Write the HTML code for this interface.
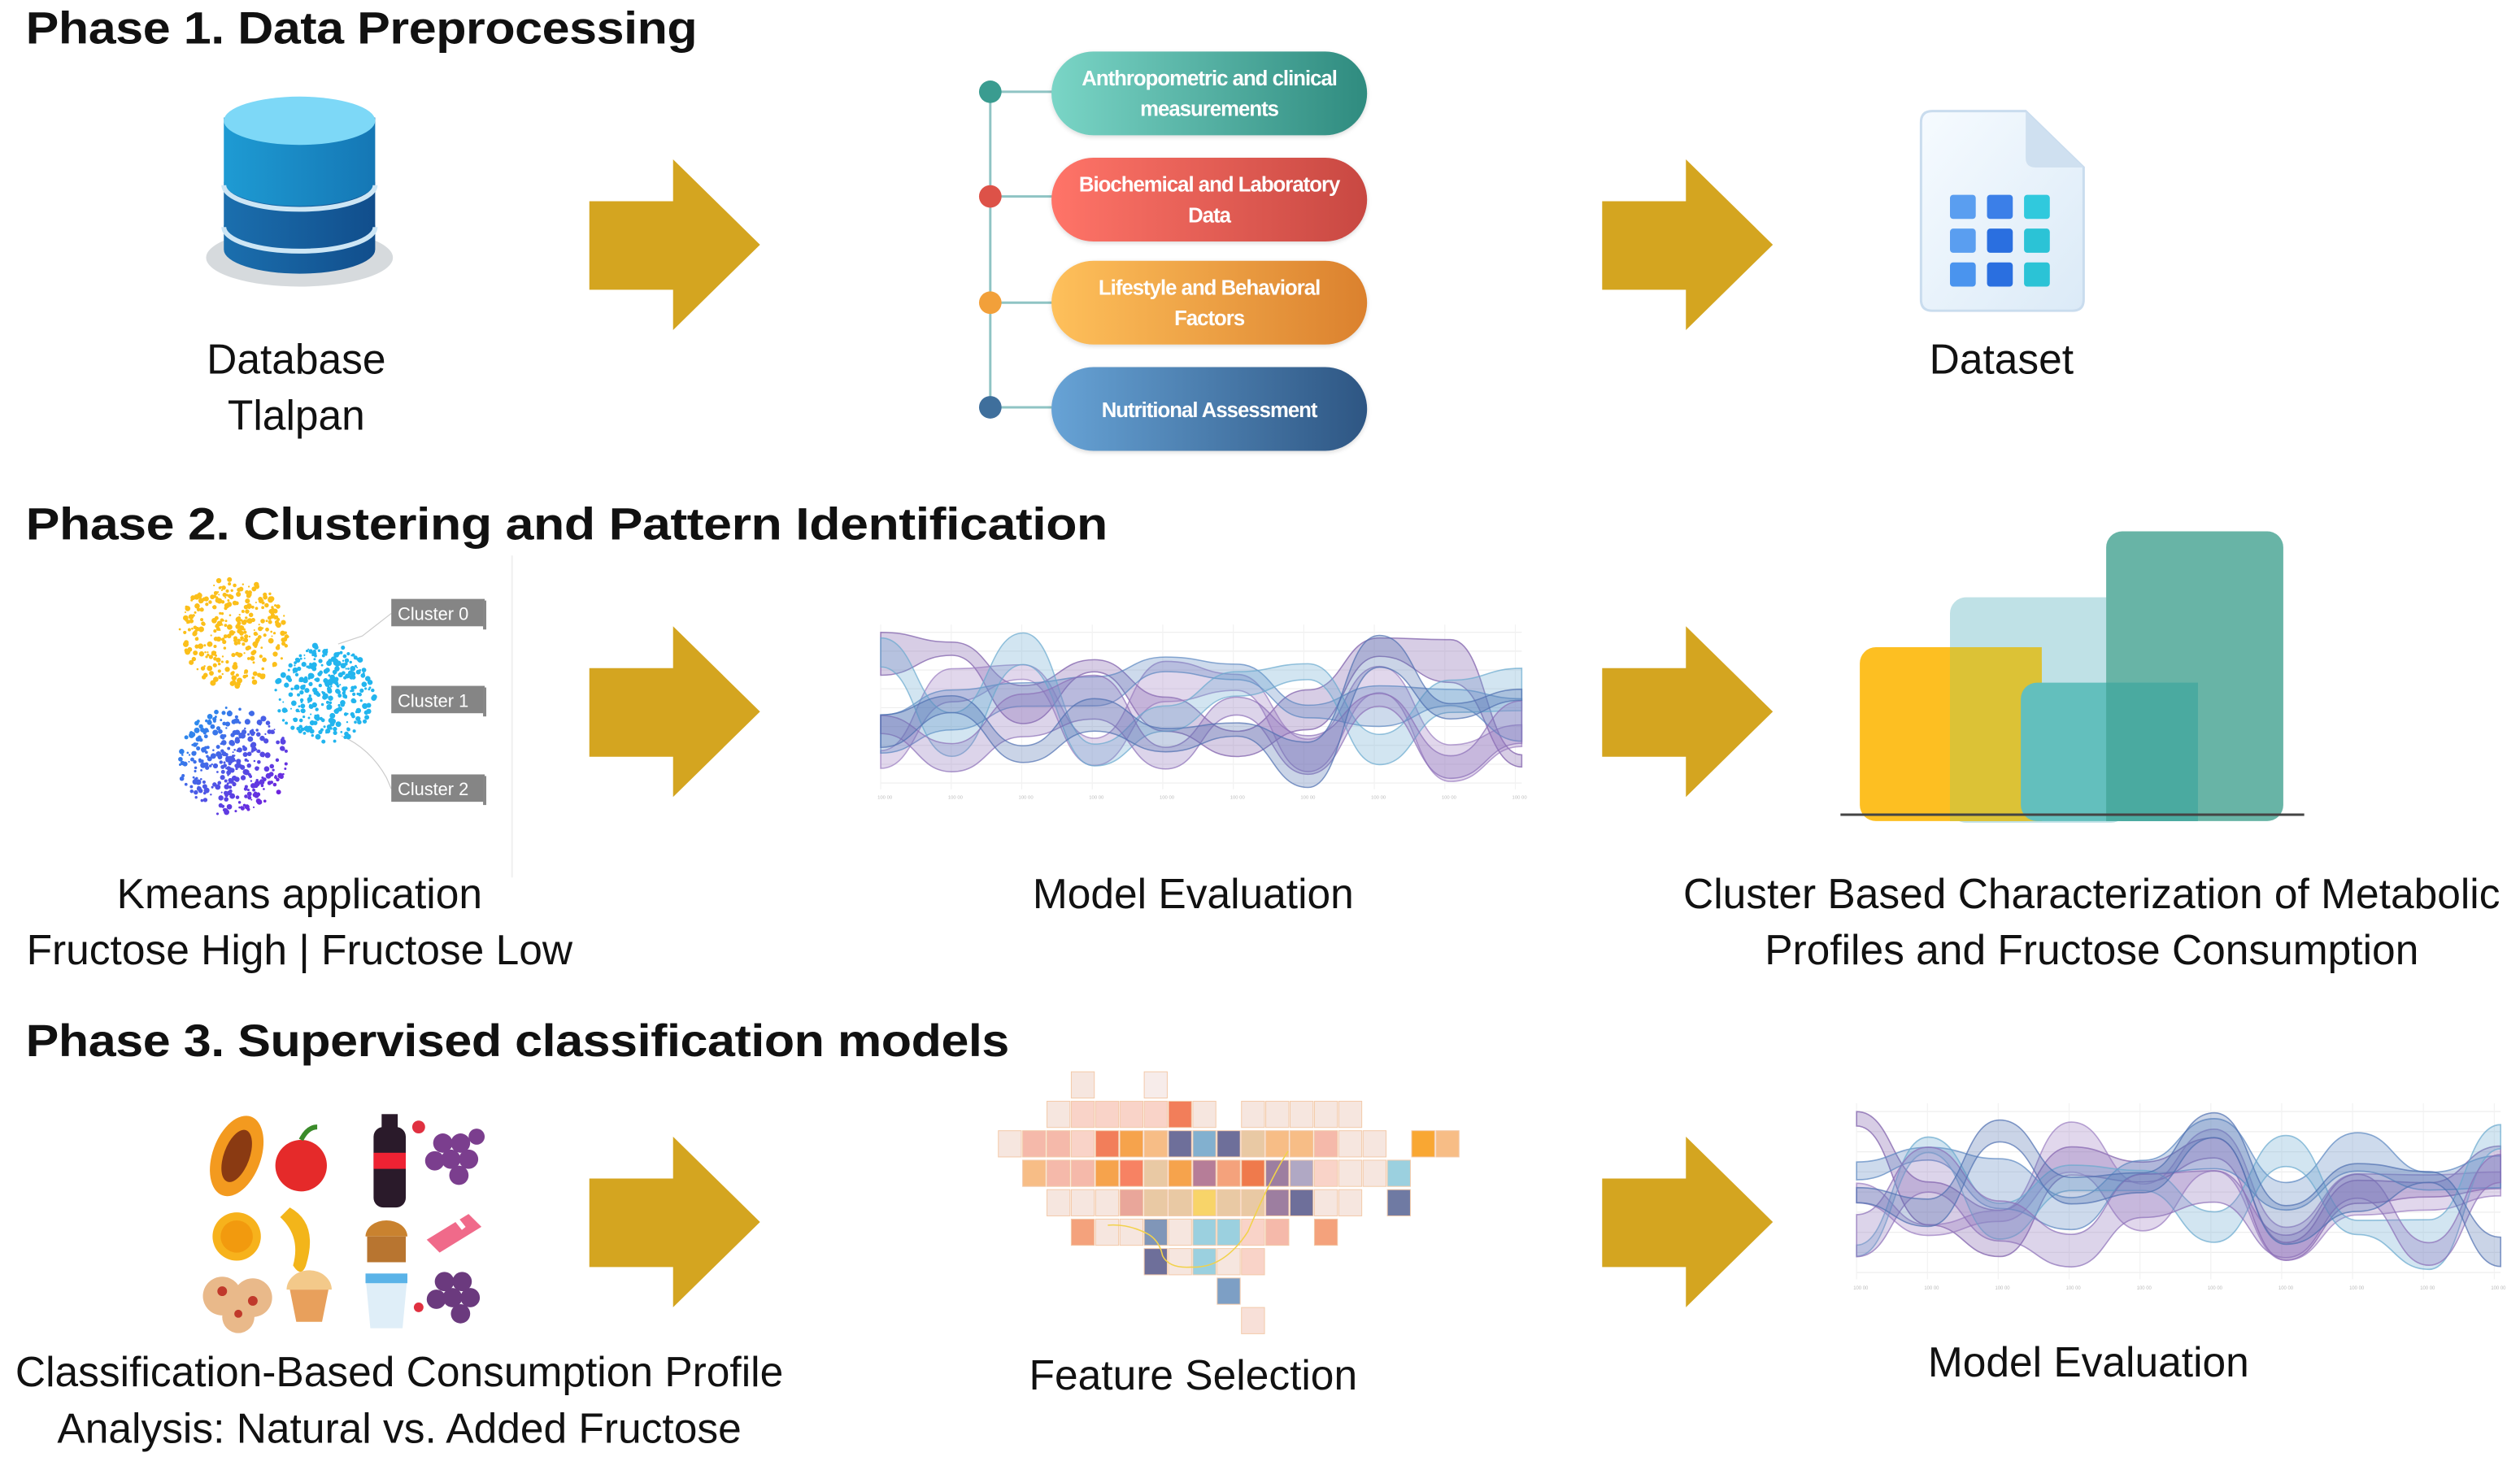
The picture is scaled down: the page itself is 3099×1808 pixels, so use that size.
<!DOCTYPE html>
<html><head><meta charset="utf-8">
<style>
html,body{margin:0;padding:0;background:#fff;overflow:hidden;width:3099px;height:1807px}
#s{position:absolute;left:0;top:0;width:1565px;height:913px;transform:scale(1.98019);transform-origin:0 0;font-family:"Liberation Sans",sans-serif;color:#111}
.t{position:absolute;font-weight:bold;font-size:28px;white-space:nowrap;letter-spacing:-0.2px;transform:scaleX(1.1);transform-origin:0 0}
.l{position:absolute;font-size:26px;text-align:center;white-space:nowrap;line-height:35px;transform:translateX(-50%)}
.pill{position:absolute;left:653px;width:196px;height:52px;border-radius:26px;color:#fff;font-weight:bold;font-size:13px;letter-spacing:-0.5px;display:flex;align-items:center;justify-content:center;text-align:center;line-height:19px;box-shadow:0 1px 3px rgba(0,0,0,.15)}
.dot{position:absolute;left:608px;width:14px;height:14px;border-radius:50%}
svg{position:absolute;overflow:visible}
</style></head><body><div id="s">

<div class="t" style="left:16px;top:2px">Phase 1. Data Preprocessing</div>
<div class="t" style="left:16px;top:310px;transform:scaleX(1.13)">Phase 2. Clustering and Pattern Identification</div>
<div class="t" style="left:16px;top:631px">Phase 3. Supervised classification models</div>

<!-- arrows -->
<svg style="left:0;top:0" width="1565" height="913">
<g fill="#D4A520">
<polygon points="366,125 418,125 418,99 472,152 418,205 418,180 366,180"/>
<polygon points="995,125 1047,125 1047,99 1101,152 1047,205 1047,180 995,180"/>
<polygon points="366,415 418,415 418,389 472,442 418,495 418,470 366,470"/>
<polygon points="995,415 1047,415 1047,389 1101,442 1047,495 1047,470 995,470"/>
<polygon points="366,732 418,732 418,706 472,759 418,812 418,787 366,787"/>
<polygon points="995,732 1047,732 1047,706 1101,759 1047,812 1047,787 995,787"/>
</g>
</svg>

<!-- database -->
<svg style="left:120px;top:55px" width="130" height="130">
<defs><linearGradient id="cy" x1="0" x2="1"><stop offset="0" stop-color="#1E9BD3"/><stop offset="1" stop-color="#1577B5"/></linearGradient>
<linearGradient id="cy2" x1="0" x2="1"><stop offset="0" stop-color="#1B6FAE"/><stop offset="1" stop-color="#114E8C"/></linearGradient></defs>
<ellipse cx="66" cy="105" rx="58" ry="18" fill="#d6dadd"/>
<path d="M19,85 L19,100 A47,15 0 0 0 113,100 L113,85 Z" fill="url(#cy2)"/>
<path d="M19,58 L19,86 A47,15 0 0 0 113,86 L113,58 Z" fill="url(#cy2)"/>
<path d="M19,18 L19,58 A47,15 0 0 0 113,58 L113,18 Z" fill="url(#cy)"/>
<path d="M19,60 A47,15 0 0 0 113,60" stroke="#cde6f5" stroke-width="3" fill="none"/>
<path d="M19,86 A47,15 0 0 0 113,86" stroke="#cde6f5" stroke-width="3" fill="none"/>
<ellipse cx="66" cy="20" rx="47" ry="15" fill="#7DD8F7"/>
</svg>
<div class="l" style="left:184px;top:206px">Database<br>Tlalpan</div>

<!-- pills -->
<svg style="left:0;top:0" width="900" height="300"><line x1="615" y1="57" x2="615" y2="253" stroke="#8fc4c4" stroke-width="1.5"/>
<g stroke="#8fc4c4" stroke-width="1.5"><line x1="615" y1="57" x2="655" y2="57"/><line x1="615" y1="122" x2="655" y2="122"/><line x1="615" y1="188" x2="655" y2="188"/><line x1="615" y1="253" x2="655" y2="253"/></g></svg>
<div class="dot" style="top:50px;background:#3a9c90"></div>
<div class="dot" style="top:115px;background:#dd5248"></div>
<div class="dot" style="top:181px;background:#f2a03a"></div>
<div class="dot" style="top:246px;background:#3f6f9c"></div>
<div class="pill" style="top:32px;background:linear-gradient(90deg,#7ad5c6,#2f8b7f)">Anthropometric and clinical<br>measurements</div>
<div class="pill" style="top:98px;background:linear-gradient(90deg,#ff7468,#c84842)">Biochemical and Laboratory<br>Data</div>
<div class="pill" style="top:162px;background:linear-gradient(90deg,#fec05b,#db812e)">Lifestyle and Behavioral<br>Factors</div>
<div class="pill" style="top:228px;background:linear-gradient(90deg,#67a3d6,#2e5683)">Nutritional Assessment</div>

<!-- dataset icon -->
<svg style="left:1190px;top:66px" width="110" height="132">
<defs><linearGradient id="dg" x1="0" y1="0" x2="1" y2="1"><stop offset="0" stop-color="#f6fbff"/><stop offset="1" stop-color="#dbeaf7"/></linearGradient></defs>
<path d="M10,3 H68 L104,38 V120 Q104,127 97,127 H10 Q3,127 3,120 V10 Q3,3 10,3 Z" fill="url(#dg)" stroke="#c9dcee" stroke-width="1.5"/>
<path d="M68,3 V32 Q68,38 74,38 H104 Z" fill="#cfe0f0"/>
<g>
<rect x="21" y="55" width="16" height="15" rx="2" fill="#5a9ef0"/><rect x="44" y="55" width="16" height="15" rx="2" fill="#3b7fe8"/><rect x="67" y="55" width="16" height="15" rx="2" fill="#30c9dd"/>
<rect x="21" y="76" width="16" height="15" rx="2" fill="#5a9ef0"/><rect x="44" y="76" width="16" height="15" rx="2" fill="#2a6fe0"/><rect x="67" y="76" width="16" height="15" rx="2" fill="#2bc3d6"/>
<rect x="21" y="97" width="16" height="15" rx="2" fill="#4a94ee"/><rect x="44" y="97" width="16" height="15" rx="2" fill="#2a6fe0"/><rect x="67" y="97" width="16" height="15" rx="2" fill="#2bc3d6"/>
</g></svg>
<div class="l" style="left:1243px;top:206px">Dataset</div>

<!-- clusters -->
<svg id="cl" style="left:100px;top:345px" width="230" height="200">
<line x1="218" y1="0" x2="218" y2="200" stroke="#f0f0f0"/>
<path d="M110,55 L125,50 L143,36" stroke="#ccc" stroke-width="0.6" fill="none"/>
<path d="M112,112 Q130,120 140,138 L143,145" stroke="#ccc" stroke-width="0.6" fill="none"/>
<g id="dots"></g>
<g font-family="Liberation Sans,sans-serif" font-size="11" fill="#fff">
<rect x="143" y="27" width="58" height="17" fill="#858585"/><rect x="200" y="28" width="2" height="18" fill="#888"/><text x="147" y="40">Cluster 0</text>
<rect x="143" y="81" width="58" height="17" fill="#858585"/><rect x="200" y="82" width="2" height="18" fill="#888"/><text x="147" y="94">Cluster 1</text>
<rect x="143" y="136" width="58" height="17" fill="#858585"/><rect x="200" y="137" width="2" height="18" fill="#888"/><text x="147" y="149">Cluster 2</text>
</g></svg>
<div class="l" style="left:186px;top:538px">Kmeans application<br>Fructose High | Fructose Low</div>

<!-- wave chart 1 -->
<svg class="wave" style="left:537px;top:383px" width="418" height="117" viewBox="0 0 420 120" preserveAspectRatio="none"></svg>
<div class="l" style="left:741px;top:538px">Model Evaluation</div>

<!-- bar chart -->
<svg style="left:1143px;top:328px" width="290" height="182">
<rect x="68" y="43" width="110" height="140" rx="10" fill="#bfe1e6"/>
<rect x="165" y="2" width="110" height="180" rx="10" fill="#68b4a6"/>
<rect x="12" y="74" width="113" height="108" rx="10" fill="#fdbf22"/>
<rect x="68" y="74" width="57" height="108" fill="#dcc236"/>
<rect x="112" y="96" width="110" height="86" rx="10" fill="#63bfbd"/>
<rect x="165" y="96" width="57" height="86" fill="#4aaaa0"/>
<line x1="0" y1="178" x2="288" y2="178" stroke="#444" stroke-width="1.5"/>
</svg>
<div class="l" style="left:1299px;top:538px">Cluster Based Characterization of Metabolic<br>Profiles and Fructose Consumption</div>

<!-- foods -->
<svg style="left:120px;top:688px" width="190" height="145">
<ellipse cx="27" cy="30" rx="15" ry="26" transform="rotate(20 27 30)" fill="#f39a1f"/>
<ellipse cx="27" cy="30" rx="8" ry="17" transform="rotate(20 27 30)" fill="#8a3a12"/>
<circle cx="67" cy="36" r="16" fill="#e52a2a"/><path d="M67,20 q4,-8 10,-8" stroke="#3a8b2a" stroke-width="3" fill="none"/>
<rect x="112" y="12" width="20" height="50" rx="6" fill="#2a1a2a"/><rect x="112" y="28" width="20" height="10" fill="#e23"/><rect x="117" y="4" width="10" height="10" fill="#2a1a2a"/>
<g fill="#7b3e8e"><circle cx="155" cy="22" r="6"/><circle cx="166" cy="22" r="6"/><circle cx="160" cy="32" r="6"/><circle cx="171" cy="32" r="6"/><circle cx="150" cy="33" r="6"/><circle cx="165" cy="42" r="6"/><circle cx="176" cy="18" r="5"/></g>
<circle cx="140" cy="12" r="4" fill="#e03040"/>
<circle cx="27" cy="80" r="15" fill="#f7b21c"/><circle cx="27" cy="80" r="10" fill="#f29a0e"/>
<path d="M60,62 q18,10 10,36 q-3,8 -8,0 q5,-18 -8,-30 z" fill="#f3b51a"/>
<path d="M107,80 a13,10 0 0 1 26,0 z" fill="#c9822f"/><rect x="108" y="80" width="24" height="16" fill="#b87530"/>
<path d="M145,82 l26,-16 l8,8 l-26,16 z" fill="#f06a8a"/><path d="M160,65 l8,10" stroke="#fff" stroke-width="3"/>
<g fill="#e9b98a"><circle cx="18" cy="117" r="12"/><circle cx="37" cy="118" r="12"/><circle cx="28" cy="130" r="10"/></g>
<g fill="#c0392b"><circle cx="18" cy="114" r="3"/><circle cx="37" cy="120" r="3"/><circle cx="28" cy="128" r="2.5"/></g>
<path d="M58,113 a14,12 0 0 1 28,0 z" fill="#f3c98a"/><path d="M60,113 h24 l-4,20 h-16 z" fill="#e8a05c"/>
<path d="M107,105 h26 l-3,32 h-20 z" fill="#dfeef8"/><rect x="107" y="103" width="26" height="6" fill="#5ab3e8"/>
<g fill="#6b3a7e"><circle cx="156" cy="108" r="6"/><circle cx="167" cy="108" r="6"/><circle cx="161" cy="118" r="6"/><circle cx="172" cy="118" r="6"/><circle cx="151" cy="119" r="6"/><circle cx="166" cy="128" r="6"/></g>
<circle cx="140" cy="124" r="3" fill="#e03040"/>
</svg>
<div class="l" style="left:248px;top:835px">Classification-Based Consumption Profile<br>Analysis: Natural vs. Added Fructose</div>

<!-- heatmap -->
<svg id="hm" style="left:0;top:0" width="1565" height="913"></svg>
<div class="l" style="left:741px;top:837px">Feature Selection</div>

<!-- wave chart 2 -->
<svg class="wave" style="left:1143px;top:680px" width="420" height="125" viewBox="0 0 420 120" preserveAspectRatio="none"></svg>
<div class="l" style="left:1297px;top:829px">Model Evaluation</div>

</div>
<script>
var NS="http://www.w3.org/2000/svg";
var seed=7;function r(){seed=(seed*16807)%2147483647;return seed/2147483647;}
var g=document.getElementById("dots");
function blob(cx,cy,R,n,colf){for(var i=0;i<n;i++){var a=r()*6.283,d=Math.pow(r(),0.6)*R;var c=document.createElementNS(NS,"circle");var x=cx+Math.cos(a)*d,y=cy+Math.sin(a)*d;c.setAttribute("cx",x);c.setAttribute("cy",y);c.setAttribute("r",0.5+r()*1.3);c.setAttribute("fill",colf(x,y));g.appendChild(c);}}
blob(45,48,34,330,function(){return "#fbbf1a"});
blob(102,86,31,300,function(){return "#22b5ee"});
blob(45,128,34,330,function(x,y){var t=(x-10+y-95)/130;t=Math.max(0,Math.min(1,t));var rr=Math.round(30+t*90),gg=Math.round(160-t*140),bb=Math.round(240-t*20);return "rgb("+rr+","+gg+","+bb+")";});
var hm=document.getElementById("hm");
var P="#f6e6df",PK="#f5b9aa",LP="#f9d3c8",RO="#f27e5a",OR="#f6a34c",LO="#f7bd86",NV="#6e6f9a",BL="#82b0cf",TN="#e9c9a4",MV="#b67d98",PM="#9d7ea0",LL="#b0a8c4",LB="#9bd0df",YL="#f8d469",BG="#8096b8",SA="#f4a27c";
var cells=[
[-1,[[3,P],[6,"#f7ecea"]]],
[0,[[2,P],[3,LP],[4,LP],[5,LP],[6,LP],[7,RO],[8,P],[10,P],[11,P],[12,P],[13,P],[14,P]]],
[1,[[0,P],[1,PK],[2,PK],[3,LP],[4,RO],[5,OR],[6,LO],[7,NV],[8,BL],[9,NV],[10,TN],[11,LO],[12,LO],[13,PK],[14,P],[15,P],[17,"#f9a733"],[18,LO]]],
[2,[[1,LO],[2,PK],[3,PK],[4,OR],[5,"#f78263"],[6,TN],[7,OR],[8,MV],[9,SA],[10,"#ef7a4c"],[11,PM],[12,LL],[13,LP],[14,P],[15,P],[16,LB]]],
[3,[[2,P],[3,P],[4,P],[5,"#e9a69a"],[6,TN],[7,TN],[8,YL],[9,TN],[10,TN],[11,PM],[12,NV],[13,P],[14,P],[16,"#6f7aa3"]]],
[4,[[3,SA],[4,P],[5,P],[6,BG],[7,P],[8,LB],[9,LB],[10,LP],[11,PK],[13,SA]]],
[5,[[6,NV],[7,P],[8,LB],[9,P],[10,LP]]],
[6,[[9,"#7d9fc5"]]],
[7,[[10,"#f8e0d8"]]]];
cells.forEach(function(row){var ri=row[0];row[1].forEach(function(c){var e=document.createElementNS(NS,"rect");e.setAttribute("x",620+c[0]*15.1);e.setAttribute("y",684+ri*18.3);e.setAttribute("width",14.3);e.setAttribute("height",16.3);e.setAttribute("fill",c[1]);e.setAttribute("stroke","#f3c9a8");e.setAttribute("stroke-width","0.5");hm.appendChild(e);});});
var y=document.createElementNS(NS,"path");y.setAttribute("d","M688,761 Q700,760 712,766 Q720,770 722,780 Q726,788 740,787 Q760,788 775,765 Q790,730 800,715");y.setAttribute("stroke","#f2d24a");y.setAttribute("fill","none");y.setAttribute("stroke-width","0.8");hm.appendChild(y);
document.querySelectorAll(".wave").forEach(function(sv,k){
 var s="";
 for(var i=0;i<9;i++){s+='<line x1="10" x2="410" y1="'+(10+i*12)+'" y2="'+(10+i*12)+'" stroke="#eee" stroke-width="0.6"/>';}
 for(var i=0;i<10;i++){s+='<line y1="5" y2="110" x1="'+(10+i*44)+'" x2="'+(10+i*44)+'" stroke="#f2f2f2" stroke-width="0.6"/>';}
 var cols=["#7b5aa8","#9a7cc0","#5a86c0","#6aa9cf","#8b6fb8","#4f6fb0"];
 seed=31+k*11;
 for(var b=0;b<6;b++){
  var pts=[],n=9;for(var i=0;i<=n;i++){pts.push([10+i*400/n,10+r()*80]);}
  var top="M"+pts[0][0]+","+pts[0][1];for(var i=1;i<=n;i++){var p0=pts[i-1],p1=pts[i];var mx=(p0[0]+p1[0])/2;top+=" C"+mx+","+p0[1]+" "+mx+","+p1[1]+" "+p1[0]+","+p1[1];}
  var th=pts.map(function(p){return 6+r()*24;});
  var bot="";for(var i=n;i>=0;i--){var p=pts[i];if(i==n)bot+=" L"+p[0]+","+(p[1]+th[i]);else{var q=pts[i+1];var mx=(p[0]+q[0])/2;bot+=" C"+mx+","+(q[1]+th[i+1])+" "+mx+","+(p[1]+th[i])+" "+p[0]+","+(p[1]+th[i]);}}
  s+='<path d="'+top+bot+' Z" fill="'+cols[b]+'" fill-opacity="0.3" stroke="'+cols[b]+'" stroke-opacity="0.7" stroke-width="0.8"/>';
 }
 s+='<g font-size="3" fill="#bbb">';for(var i=0;i<10;i++)s+='<text x="'+(8+i*44)+'" y="116">100 00</text>';s+='</g>';
 sv.innerHTML=s;
});
</script>
</body></html>
